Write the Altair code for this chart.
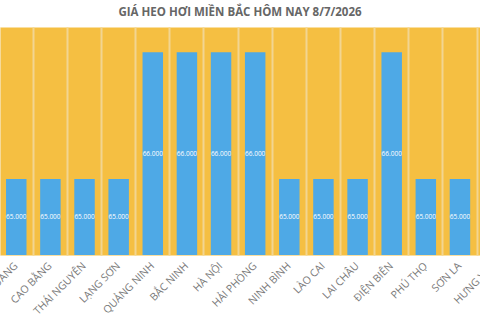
import altair as alt
import pandas as pd

# Live hog prices across the northern provinces (VND/kg)
provinces = [
    "TUYÊN QUANG", "CAO BẰNG", "THÁI NGUYÊN", "LẠNG SƠN", "QUẢNG NINH",
    "BẮC NINH", "HÀ NỘI", "HẢI PHÒNG", "NINH BÌNH", "LÀO CAI",
    "LAI CHÂU", "ĐIỆN BIÊN", "PHÚ THỌ", "SƠN LA", "HƯNG YÊN",
]
prices = [
    65000, 65000, 65000, 65000, 66000,
    66000, 66000, 66000, 65000, 65000,
    65000, 66000, 65000, 65000, 66000,
]

title_text = "GIÁ HEO HƠI MIỀN BẮC HÔM NAY 8/7/2026"

df = pd.DataFrame({"tinh": provinces, "gia": prices})

Y_MIN, Y_MAX = 64400, 66200
BAND = 34.13
x_range = [-0.8, -0.8 + BAND * len(provinces)]

x_enc = alt.X(
    "tinh:N",
    sort=provinces,
    scale=alt.Scale(range=x_range, paddingInner=0, paddingOuter=0),
    axis=alt.Axis(
        title=None,
        labelAngle=-45,
        labelAlign="right",
        labelBaseline="middle",
        labelPadding=9,
        labelFont="Open Sans",
        labelFontSize=10.5,
        labelColor="#7a7a7a",
        labelOverlap=False,
        labelLimit=200,
        ticks=False,
        domain=False,
        grid=True,
        gridColor="#F2D591",
        gridWidth=2,
        bandPosition=0,
    ),
)
y_scale = alt.Scale(domain=[Y_MIN, Y_MAX], zero=False, nice=False)

bars = alt.Chart(df).mark_bar(
    color="#4EA9E6", width=alt.RelativeBandSize(0.6)
).encode(
    x=x_enc,
    y=alt.Y("gia:Q", scale=y_scale, axis=None),
    y2=alt.datum(Y_MIN),
)

labels = alt.Chart(df).transform_calculate(
    mid=f"({Y_MIN} + datum.gia) / 2",
    nhan="replace(format(datum.gia, ','), ',', '.')",
).mark_text(
    color="white", font="Open Sans", fontSize=6.5, baseline="middle"
).encode(
    x=alt.X("tinh:N", sort=provinces),
    y=alt.Y("mid:Q", scale=y_scale),
    text="nhan:N",
)

chart = (
    alt.layer(bars, labels)
    .properties(
        width=480,
        height=228,
        autosize=alt.AutoSizeParams(type="none"),
        padding={"left": 0, "right": 0, "top": 27, "bottom": 65},
        title=alt.TitleParams(
            title_text,
            font="Open Sans",
            fontSize=11.5,
            fontWeight="bold",
            color="#666666",
            anchor="middle",
            baseline="alphabetic",
            offset=0,
        ),
    )
    .configure_view(fill="#F5BF42", stroke="transparent")
)

chart.save("out.html", embed_options={"renderer": "svg", "actions": False})
